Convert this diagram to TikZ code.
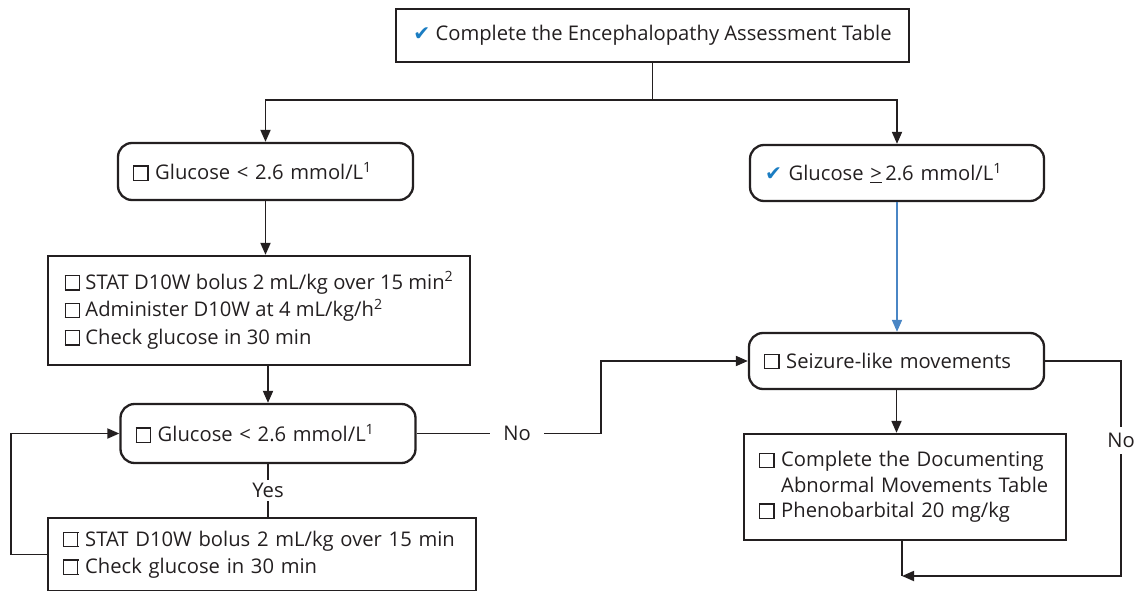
\documentclass[tikz,border=0pt]{standalone}
\usepackage{fontspec}
\setmainfont{Open Sans}
\newfontfamily\symfont{DejaVu Sans}
\usetikzlibrary{arrows.meta}

\definecolor{ink}{HTML}{231F20}
\definecolor{tickblue}{HTML}{1B7DC2}
\definecolor{flowblue}{HTML}{4A86C5}

% empty check box and blue tick mark
\newcommand\ckbox{{\setlength\fboxsep{0pt}\setlength\fboxrule{1.25pt}\fbox{\rule{0pt}{13pt}\rule{13pt}{0pt}}}}
\newcommand\ticked{{\color{tickblue}\symfont ✔}}
\newcommand\fnote[1]{\textsuperscript{#1}}

\tikzset{
  basebox/.style={draw=ink, text=ink, line width=2.3pt, font=\fontsize{20.2}{27.5}\selectfont,
    inner ysep=0pt},
  leftbox/.style={basebox, align=left, inner xsep=15pt},
  roundbox/.style={leftbox, rounded corners=14pt},
  conn/.style={draw=ink, line width=1.8pt},
  arrow/.style={conn, -{Triangle[length=12pt,width=10pt]}},
  lbl/.style={fill=white, text=ink, font=\fontsize{20.2}{24}\selectfont, inner sep=3pt}
}

\begin{document}
\begin{tikzpicture}[x=1pt, y=-1pt]
\useasboundingbox (0,0) rectangle (1146,591);

% assessment step
\node[basebox, minimum width=513pt, minimum height=53pt] (top) at (652.5,35.5)
  {\ticked\ Complete the Encephalopathy Assessment Table};

% glucose branches
\node[roundbox, text width=265pt, minimum height=57pt] (low) at (265.5,171.5)
  {\ckbox\ Glucose < 2.6 mmol/L\fnote{1}};
\node[roundbox, text width=264pt, minimum height=56pt] (ok) at (897,173)
  {\ticked\ Glucose \underline{>}\,2.6 mmol/L\fnote{1}};

% treatment for low glucose (block centred in the box)
\node[basebox, align=left, inner xsep=8pt, minimum width=422pt, minimum height=109pt] (treat) at (259,310.5)
  {\ckbox\ STAT D10W bolus 2 mL/kg over 15 min\fnote{2}\\
   \ckbox\ Administer D10W at 4 mL/kg/h\fnote{2}\\
   \ckbox\ Check glucose in 30 min};

\node[roundbox, text width=265pt, minimum height=59pt] (recheck) at (268,433.5)
  {\ckbox\ Glucose < 2.6 mmol/L\fnote{1}};

\node[leftbox, text width=398pt, minimum height=73pt] (repeat) at (262,554.5)
  {\ckbox\ STAT D10W bolus 2 mL/kg over 15 min\\
   \ckbox\ Check glucose in 30 min};

% seizure assessment
\node[roundbox, text width=265pt, minimum height=56pt] (seize) at (896.5,361)
  {\ckbox\ Seizure-like movements};
\node[leftbox, text width=292pt, minimum height=106pt, font=\fontsize{20.2}{25.5}\selectfont] (doc) at (905,487)
  {\ckbox\ Complete the Documenting\\
   \hphantom{\ckbox\ }Abnormal Movements Table\\
   \ckbox\ Phenobarbital 20 mg/kg};

% connectors
\draw[conn] (top.south) -- ++(0,37) coordinate (split);
\draw[arrow] (split) -| (low.north);
\draw[arrow] (split) -| (ok.north);

\draw[arrow] (low.south) -- (low.south |- treat.north);
\draw[arrow] (treat.south -| recheck.north) -- (recheck.north);
\draw[conn] (recheck.south) -- node[lbl, pos=0.5] {Yes} (recheck.south |- repeat.north);
\draw[arrow] (repeat.west) -- ++(-36,0) |- (recheck.west);

\draw[arrow] (recheck.east) -- ++(184.5,0) node[lbl, pos=0.545, inner xsep=13pt] {No} |- (seize.west);

\draw[arrow, draw=flowblue, -{Triangle[length=12pt,width=10pt,fill=flowblue]}] (ok.south) -- (ok.south |- seize.north);

\draw[arrow] (seize.south) -- (seize.south |- doc.north);
\coordinate (join) at ([xshift=-3pt]doc.south |- 0,576);
\draw[conn] ([xshift=-3pt]doc.south) -- (join);
\draw[arrow] (seize.east) -- ++(76,0) coordinate (turn) -- node[lbl, pos=0.37, inner ysep=6pt] {No} (turn |- join) -- (join);

\end{tikzpicture}
\end{document}
